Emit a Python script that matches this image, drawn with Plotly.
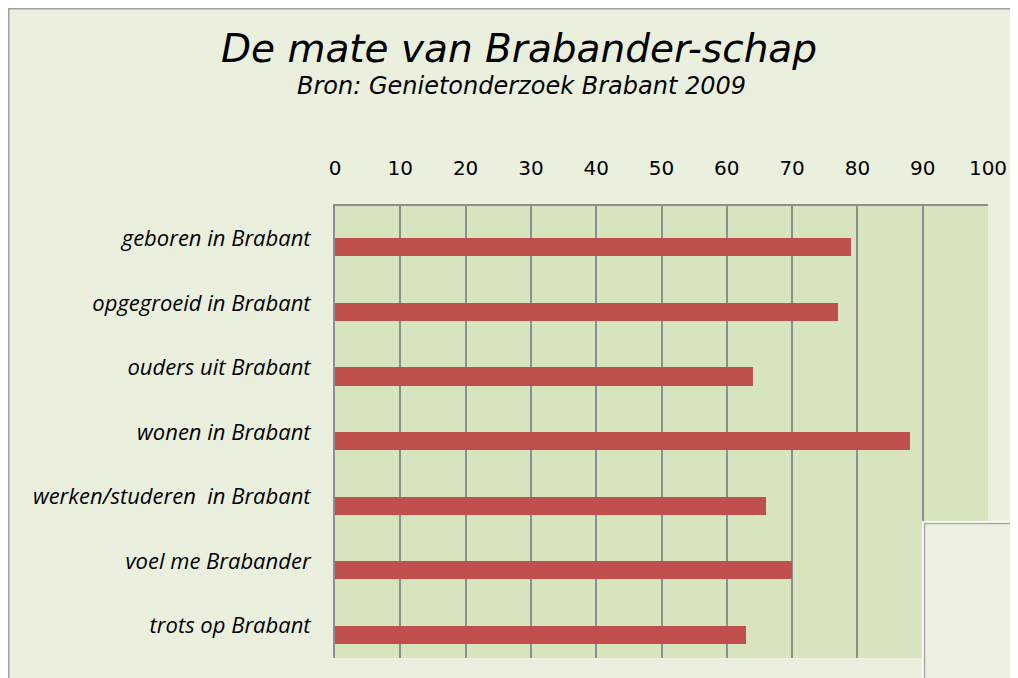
import plotly.graph_objects as go

categories = ["geboren in Brabant", "opgegroeid in Brabant", "ouders uit Brabant",
              "wonen in Brabant", "werken/studeren  in Brabant", "voel me Brabander",
              "trots op Brabant"]
values = [79, 77, 64, 88, 66, 70, 63]
tick_vals = [0, 10, 20, 30, 40, 50, 60, 70, 80, 90, 100]

# the page puts the figure 8px in from the top-left corner
OFF = 8
W, H = 1018 - OFF, 678 - OFF
L, R, T, B = 335 - OFF, 30, 206 - OFF, 20
PW, PH = W - L - R, H - T - B

def px_x(x):
    # x in page pixels
    return (x - OFF - L) / PW

def px_y(y):
    # y in page pixels
    return (H - B - (y - OFF)) / PH

fig = go.Figure()
fig.add_trace(go.Bar(
    y=categories, x=values, orientation="h",
    marker=dict(color="#C0504D", line=dict(width=0)),
    width=0.28, offset=0,
    hoverinfo="x+y",
))

shapes = [
    # frame lines at the figure's top and left edges
    dict(type="line", xref="paper", yref="paper", x0=px_x(OFF), x1=px_x(1018), y0=px_y(OFF + 0.5), y1=px_y(OFF + 0.5),
         line=dict(color="#A0A0A0", width=2), layer="above"),
    dict(type="line", xref="paper", yref="paper", x0=px_x(OFF + 0.5), x1=px_x(OFF + 0.5), y0=px_y(OFF), y1=px_y(678),
         line=dict(color="#A0A0A0", width=2), layer="above"),
    # overlapping box bottom-right
    dict(type="rect", xref="paper", yref="paper", x0=px_x(923), x1=px_x(1020), y0=px_y(680), y1=px_y(522),
         fillcolor="#ECF0E0", line=dict(color="#FFFFFF", width=2), layer="above"),
    dict(type="line", xref="paper", yref="paper", x0=px_x(924.5), x1=px_x(924.5), y0=px_y(678), y1=px_y(523.5),
         line=dict(color="#A8A8A8", width=1.5), layer="above"),
    dict(type="line", xref="paper", yref="paper", x0=px_x(924.5), x1=px_x(1018), y0=px_y(523.5), y1=px_y(523.5),
         line=dict(color="#A8A8A8", width=1.5), layer="above"),
]

fig.update_layout(
    width=W, height=H,
    margin=dict(l=L, r=R, t=T, b=B),
    paper_bgcolor="#EBF0DE",
    plot_bgcolor="#D7E4BD",
    showlegend=False,
    bargap=0,
    shapes=shapes,
    annotations=[
        dict(text="<i>De mate van Brabander-schap</i>", xref="paper", yref="paper",
             x=px_x(519), y=px_y(48), xanchor="center", yanchor="middle", showarrow=False,
             font=dict(family="DejaVu Sans", size=39, color="#000000")),
        dict(text="<i>Bron: Genietonderzoek Brabant 2009</i>", xref="paper", yref="paper",
             x=px_x(521), y=px_y(86), xanchor="center", yanchor="middle", showarrow=False,
             font=dict(family="DejaVu Sans", size=24, color="#000000")),
    ],
)

fig.update_xaxes(
    side="top", range=[0, 100], tickvals=tick_vals,
    showgrid=True, gridcolor="#8E8E8E", gridwidth=2,
    showline=True, linecolor="#8E8E8E", linewidth=2,
    ticks="", ticklabelstandoff=21, zeroline=False,
    tickfont=dict(family="DejaVu Sans", size=20, color="#000000"),
    fixedrange=True,
)
fig.update_yaxes(
    autorange="reversed", showgrid=False,
    showline=True, linecolor="#8E8E8E", linewidth=2,
    ticks="", ticklabelstandoff=18,
    tickfont=dict(family="Open Sans", size=22, color="#000000", style="italic"),
    fixedrange=True,
)

fig.write_html("out.html")
